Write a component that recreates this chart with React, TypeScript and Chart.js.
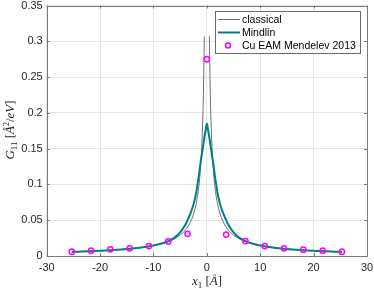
import React, { useEffect, useRef } from 'react';
import { Chart, registerables } from 'chart.js';

Chart.register(...registerables);

// ---- data ----
const classicalX = [
  -25.3, -24, -22, -20, -18, -16, -14, -12, -10, -9, -8, -7, -6, -5, -4.5, -4, -3.5, -3, -2.5, -2,
  -1.75, -1.5, -1.25, -1, -0.85, -0.7, -0.6, -0.5, -0.475,
  0,
  0.475, 0.5, 0.6, 0.7, 0.85, 1, 1.25, 1.5, 1.75, 2, 2.5, 3, 3.5, 4, 4.5, 5, 6, 7, 8, 9, 10, 12, 14,
  16, 18, 20, 22, 24, 25.3,
];
const classicalY: (number | null)[] = [
  0.00577, 0.00608, 0.00664, 0.0073, 0.00811, 0.00913, 0.0104, 0.0122, 0.0146, 0.0162, 0.0183,
  0.0209, 0.0243, 0.0292, 0.0324, 0.0365, 0.0417, 0.0487, 0.0584, 0.073, 0.0834, 0.0973, 0.117,
  0.146, 0.172, 0.209, 0.243, 0.292, 0.307,
  null,
  0.307, 0.292, 0.243, 0.209, 0.172, 0.146, 0.117, 0.0973, 0.0834, 0.073, 0.0584, 0.0487, 0.0417,
  0.0365, 0.0324, 0.0292, 0.0243, 0.0209, 0.0183, 0.0162, 0.0146, 0.0122, 0.0104, 0.00913, 0.00811,
  0.0073, 0.00664, 0.00608, 0.00577,
];

const mindlinX = [
  -25.3, -24, -22, -20, -18, -16, -14, -12, -10, -9, -8, -7, -6, -5, -4, -3.5, -3, -2.5, -2, -1.75,
  -1.5, -1.25, -1, -0.75, -0.5, -0.25, 0, 0.25, 0.5, 0.75, 1, 1.25, 1.5, 1.75, 2, 2.5, 3, 3.5, 4, 5,
  6, 7, 8, 9, 10, 12, 14, 16, 18, 20, 22, 24, 25.3,
];
const mindlinY = [
  0.0058, 0.0061, 0.0066, 0.0073, 0.0081, 0.0091, 0.0104, 0.0122, 0.0147, 0.0163, 0.0185, 0.0215,
  0.026, 0.033, 0.044, 0.052, 0.061, 0.072, 0.088, 0.1, 0.112, 0.127, 0.139, 0.151, 0.164, 0.175,
  0.185, 0.175, 0.164, 0.151, 0.139, 0.127, 0.112, 0.1, 0.088, 0.072, 0.061, 0.052, 0.044, 0.033,
  0.026, 0.0215, 0.0185, 0.0163, 0.0147, 0.0122, 0.0104, 0.0091, 0.0081, 0.0073, 0.0066, 0.0061,
  0.0058,
];

const mdX = [
  -25.305, -21.69, -18.075, -14.46, -10.845, -7.23, -3.615, 0, 3.615, 7.23, 10.845, 14.46, 18.075,
  21.69, 25.305,
];
const mdY = [
  0.006, 0.0074, 0.0093, 0.0107, 0.0139, 0.0204, 0.031, 0.275, 0.03, 0.0208, 0.0139, 0.0107, 0.0088,
  0.0074, 0.006,
];

const xTicks = [-30, -20, -10, 0, 10, 20, 30];
const yTicks = [0, 0.05, 0.1, 0.15, 0.2, 0.25, 0.3, 0.35];

const seriesNames = ['classical', 'Mindlin', 'Cu EAM Mendelev 2013'];

const GRAY = '#6e6e6e';
const TEAL = '#008080';
const MAGENTA = '#ff00ff';
const AXIS = '#262626';

type Run = { t: string; italic?: boolean; size: number; dy?: number };

function drawRuns(ctx: CanvasRenderingContext2D, runs: Run[], cx: number, cy: number, rot: number) {
  ctx.save();
  ctx.translate(cx, cy);
  ctx.rotate(rot);
  ctx.textBaseline = 'alphabetic';
  ctx.textAlign = 'left';
  ctx.fillStyle = AXIS;
  const fontOf = (r: Run) =>
    `${r.italic ? 'italic ' : ''}${r.size}px "Liberation Serif", "DejaVu Serif", serif`;
  let total = 0;
  for (const r of runs) {
    ctx.font = fontOf(r);
    total += ctx.measureText(r.t).width;
  }
  let x = -total / 2;
  for (const r of runs) {
    ctx.font = fontOf(r);
    ctx.fillText(r.t, x, 4 + (r.dy || 0));
    x += ctx.measureText(r.t).width;
  }
  ctx.restore();
}

const decorPlugin = {
  id: 'decor',
  afterDatasetsDraw(chart: any) {
    const ctx: CanvasRenderingContext2D = chart.ctx;
    const { left, right, top, bottom } = chart.chartArea;
    const xs = chart.scales.x;
    const ys = chart.scales.y;
    ctx.save();
    // frame
    ctx.strokeStyle = '#7a7a7a';
    ctx.lineWidth = 1;
    ctx.strokeRect(Math.round(left) + 0.5, Math.round(top) + 0.5, Math.round(right) - Math.round(left), Math.round(bottom) - Math.round(top));
    // inward ticks
    const tl = 3;
    ctx.beginPath();
    for (const v of xTicks) {
      const px = Math.round(xs.getPixelForValue(v)) + 0.5;
      ctx.moveTo(px, bottom);
      ctx.lineTo(px, bottom - tl);
      ctx.moveTo(px, top);
      ctx.lineTo(px, top + tl);
    }
    for (const v of yTicks) {
      const py = Math.round(ys.getPixelForValue(v)) + 0.5;
      ctx.moveTo(left, py);
      ctx.lineTo(left + tl, py);
      ctx.moveTo(right, py);
      ctx.lineTo(right - tl, py);
    }
    ctx.stroke();

    // legend
    const lx0 = 215.5, ly0 = 11.5, lx1 = 360.5, ly1 = 53.5;
    ctx.fillStyle = '#ffffff';
    ctx.fillRect(lx0, ly0, lx1 - lx0, ly1 - ly0);
    ctx.strokeStyle = '#6a6a6a';
    ctx.lineWidth = 1;
    ctx.strokeRect(lx0, ly0, lx1 - lx0, ly1 - ly0);
    const rows = [19.5, 32.5, 45.5];
    // classical line
    ctx.strokeStyle = GRAY;
    ctx.lineWidth = 1;
    ctx.beginPath();
    ctx.moveTo(218, rows[0]);
    ctx.lineTo(240, rows[0]);
    ctx.stroke();
    // mindlin line
    ctx.strokeStyle = TEAL;
    ctx.lineWidth = 2;
    ctx.beginPath();
    ctx.moveTo(218, rows[1]);
    ctx.lineTo(240, rows[1]);
    ctx.stroke();
    // marker
    ctx.strokeStyle = MAGENTA;
    ctx.lineWidth = 1.5;
    ctx.beginPath();
    ctx.arc(228, rows[2], 2.5, 0, Math.PI * 2);
    ctx.stroke();
    ctx.fillStyle = '#000';
    ctx.font = '10.5px "Liberation Sans", Arial, sans-serif';
    ctx.textBaseline = 'middle';
    ctx.textAlign = 'left';
    seriesNames.forEach((n, i) => ctx.fillText(n, 242, rows[i] + 0.5));

    // axis titles
    drawRuns(
      ctx,
      [
        { t: 'x', italic: true, size: 13 },
        { t: '1', size: 9, dy: 2.5 },
        { t: ' [', size: 13 },
        { t: 'Å', italic: true, size: 13 },
        { t: ']', size: 13 },
      ],
      207,
      281,
      0
    );
    drawRuns(
      ctx,
      [
        { t: 'G', italic: true, size: 13 },
        { t: '11', size: 9, dy: 2.5 },
        { t: ' [', size: 13 },
        { t: 'Å', italic: true, size: 13 },
        { t: '2', size: 8, dy: -5 },
        { t: '/', size: 13 },
        { t: 'eV', italic: true, size: 13 },
        { t: ']', size: 13 },
      ],
      10,
      130,
      -Math.PI / 2
    );
    ctx.restore();
  },
};

export default function App() {
  const canvasRef = useRef<HTMLCanvasElement | null>(null);

  useEffect(() => {
    if (!canvasRef.current) return;
    const toPts = (xs: number[], ys: (number | null)[]) => xs.map((x, i) => ({ x, y: ys[i] }));
    const tickFont = { family: '"Liberation Sans", Arial, sans-serif', size: 11 };
    const chart = new Chart(canvasRef.current, {
      type: 'scatter',
      data: {
        datasets: [
          {
            label: seriesNames[2],
            data: toPts(mdX, mdY) as any,
            showLine: false,
            pointRadius: 2.6,
            pointBorderWidth: 1.5,
            pointBorderColor: MAGENTA,
            pointBackgroundColor: 'rgba(0,0,0,0)',
            order: 0,
          },
          {
            label: seriesNames[1],
            data: toPts(mindlinX, mindlinY) as any,
            showLine: true,
            borderColor: TEAL,
            borderWidth: 2,
            pointRadius: 0,
            cubicInterpolationMode: 'monotone',
            order: 1,
          },
          {
            label: seriesNames[0],
            data: toPts(classicalX, classicalY) as any,
            showLine: true,
            spanGaps: false,
            borderColor: GRAY,
            borderWidth: 1,
            pointRadius: 0,
            cubicInterpolationMode: 'monotone',
            order: 2,
          },
        ],
      },
      options: {
        animation: false,
        responsive: false,
        devicePixelRatio: 1,
        layout: { padding: { top: 4, right: 7, left: 0, bottom: 0 } },
        plugins: { legend: { display: false }, tooltip: { enabled: false } },
        scales: {
          x: {
            type: 'linear',
            min: -30,
            max: 30,
            afterBuildTicks: (s: any) => {
              s.ticks = xTicks.map((v) => ({ value: v }));
            },
            afterFit: (s: any) => {
              s.height = 34;
              s.paddingLeft = 0;
              s.paddingRight = 0;
            },
            ticks: {
              color: AXIS,
              font: tickFont,
              padding: 5,
              maxRotation: 0,
              autoSkip: false,
              callback: (v: any) => String(v),
            },
            grid: { color: '#e6e6e6', lineWidth: 1, drawTicks: false },
            border: { display: false },
          },
          y: {
            type: 'linear',
            min: 0,
            max: 0.35,
            afterBuildTicks: (s: any) => {
              s.ticks = yTicks.map((v) => ({ value: v }));
            },
            afterFit: (s: any) => {
              s.width = 46.7;
              s.paddingTop = 0;
              s.paddingBottom = 0;
            },
            ticks: {
              color: AXIS,
              font: tickFont,
              padding: 4,
              autoSkip: false,
              callback: (v: any) => String(v),
            },
            grid: { color: '#e6e6e6', lineWidth: 1, drawTicks: false },
            border: { display: false },
          },
        },
      } as any,
      plugins: [decorPlugin],
    });
    return () => chart.destroy();
  }, []);

  return (
    <div style={{ position: 'absolute', left: 0, top: 0, width: 374, height: 290, background: '#fff' }}>
      <canvas ref={canvasRef} width={374} height={290} style={{ display: 'block', width: 374, height: 290 }} />
    </div>
  );
}
